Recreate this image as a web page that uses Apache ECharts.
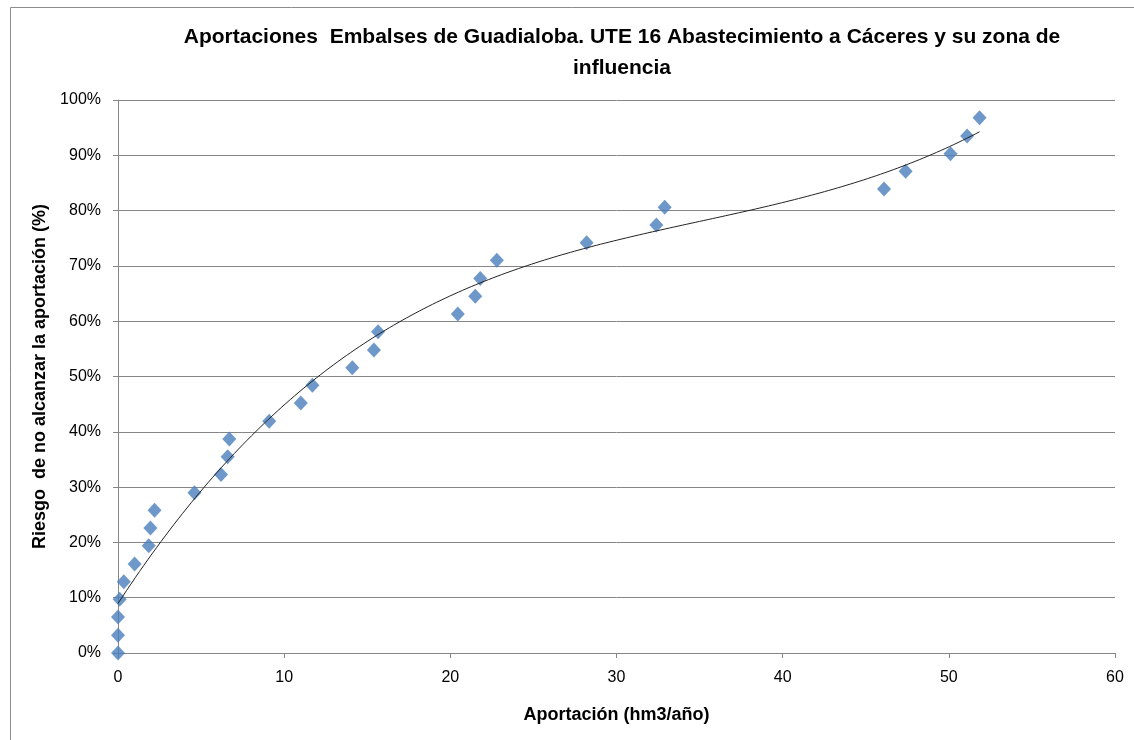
<!DOCTYPE html>
<html><head><meta charset="utf-8">
<script src="https://cdn.jsdelivr.net/npm/echarts@6/dist/echarts.min.js"></script>
<style>html,body{margin:0;padding:0;background:#fff}#c{width:1134px;height:740px}</style>
</head><body><div id="c"></div>
<script>
const titleText = 'Aportaciones  Embalses de Guadialoba. UTE 16 Abastecimiento a Cáceres y su zona de\ninfluencia';
const xName = 'Aportación (hm3/año)';
const yName = 'Riesgo  de no alcanzar la aportación (%)';
const aportacion = [0, 0, 0, 0.1, 0.35, 1.0, 1.85, 1.95, 2.2, 4.6, 6.2, 6.6, 6.7, 9.1, 11.0, 11.7, 14.1, 15.4, 15.65, 20.45, 21.5, 21.8, 22.8, 28.2, 32.4, 32.9, 46.1, 47.4, 50.1, 51.1, 51.85];
const riesgo = [0, 3.2, 6.5, 9.7, 12.9, 16.1, 19.4, 22.6, 25.8, 29.0, 32.3, 35.5, 38.7, 41.9, 45.2, 48.4, 51.6, 54.8, 58.1, 61.3, 64.5, 67.7, 71.0, 74.2, 77.4, 80.6, 83.9, 87.1, 90.3, 93.5, 96.8];

// cubic least-squares trend line (as in the spreadsheet's polynomial trendline)
function polyfit(xs, ys, deg){
  const n = deg+1, A = [], b = [];
  for(let i=0;i<n;i++){A.push(new Array(n).fill(0)); b.push(0);}
  xs.forEach((x,k)=>{
    for(let i=0;i<n;i++){
      for(let j=0;j<n;j++) A[i][j]+=Math.pow(x,i+j);
      b[i]+=Math.pow(x,i)*ys[k];
    }
  });
  for(let i=0;i<n;i++){
    let p=i; for(let r=i+1;r<n;r++) if(Math.abs(A[r][i])>Math.abs(A[p][i])) p=r;
    [A[i],A[p]]=[A[p],A[i]]; [b[i],b[p]]=[b[p],b[i]];
    for(let r=i+1;r<n;r++){const f=A[r][i]/A[i][i]; for(let c=i;c<n;c++) A[r][c]-=f*A[i][c]; b[r]-=f*b[i];}
  }
  const c=new Array(n).fill(0);
  for(let i=n-1;i>=0;i--){let s=b[i]; for(let j=i+1;j<n;j++) s-=A[i][j]*c[j]; c[i]=s/A[i][i];}
  return c;
}
const coef = polyfit(aportacion, riesgo, 3);
const xmin = Math.min(...aportacion), xmax = Math.max(...aportacion);
const trend = [];
for(let i=0;i<=200;i++){
  const x = xmin + (xmax-xmin)*i/200;
  let y=0; coef.forEach((c,k)=>{y+=c*Math.pow(x,k);});
  trend.push([x,y]);
}

const chart = echarts.init(document.getElementById('c'));
chart.setOption({
  animation:false,
  backgroundColor:'#fff',
  graphic:[{type:'rect',shape:{x:10.5,y:7.5,width:1130,height:740},style:{fill:'none',stroke:'#8c8c8c',lineWidth:1}}],
  title:{text:titleText,left:617,top:17,textAlign:'center',
    textStyle:{fontFamily:'Liberation Sans',fontSize:21,fontWeight:'bold',color:'#000',lineHeight:31}},
  grid:{left:118,right:19,top:100,bottom:87},
  xAxis:{type:'value',min:0,max:60,interval:10,
    name:xName,nameLocation:'middle',nameGap:53,
    nameTextStyle:{fontFamily:'Liberation Sans',fontSize:18,fontWeight:'bold',color:'#000'},
    axisLine:{show:true,onZero:false,lineStyle:{color:'#868686'}},
    axisTick:{show:true,length:5,lineStyle:{color:'#868686'}},
    axisLabel:{fontFamily:'Liberation Sans',fontSize:16,color:'#000',margin:17},
    splitLine:{show:false}},
  yAxis:{type:'value',min:0,max:100,interval:10,
    name:yName,nameLocation:'middle',nameGap:66,
    nameTextStyle:{fontFamily:'Liberation Sans',fontSize:18,fontWeight:'bold',color:'#000'},
    axisLine:{show:true,lineStyle:{color:'#868686'}},
    axisTick:{show:true,length:5,lineStyle:{color:'#868686'}},
    axisLabel:{fontFamily:'Liberation Sans',fontSize:16,color:'#000',margin:17,formatter:'{value}%'},
    splitLine:{show:true,lineStyle:{color:'#868686',width:1}}},
  series:[
    {type:'line',data:trend,showSymbol:false,symbol:'none',z:3,
      lineStyle:{color:'#222',width:1},silent:true},
    {type:'scatter',data:aportacion.map((x,i)=>[x,riesgo[i]]),symbol:'diamond',symbolSize:[14,15],z:2,
      itemStyle:{color:'#4a7ebb'}}
  ]
});
</script></body></html>
